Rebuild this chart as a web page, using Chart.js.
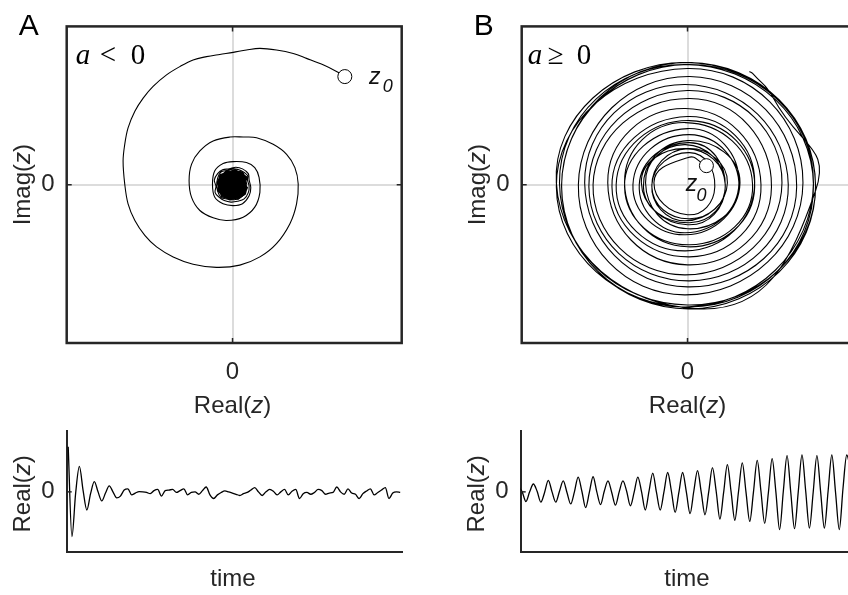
<!DOCTYPE html>
<html>
<head>
<meta charset="utf-8">
<title>Phase portraits</title>
<script src="https://cdn.jsdelivr.net/npm/chart.js@4.4.1/dist/chart.umd.min.js"></script>
<style>
  html, body { margin: 0; padding: 0; width: 848px; height: 595px; overflow: hidden; background: #fff; }
  canvas { position: absolute; }
</style>
</head>
<body>
<canvas id="phaseA" width="424" height="420" style="left:0;top:0"></canvas>
<canvas id="phaseB" width="424" height="420" style="left:455px;top:0"></canvas>
<canvas id="traceA" width="424" height="190" style="left:0;top:405px"></canvas>
<canvas id="traceB" width="424" height="190" style="left:454px;top:405px"></canvas>
<script>
// Panel A, phase plane: trajectory from z0 spiralling into the origin
const spiralARe = [
  0.677, 0.627, 0.546, 0.446, 0.366, 0.265, 0.165, 0.084, 0.004, -0.077,
  -0.157, -0.238, -0.318, -0.398, -0.479, -0.539, -0.589, -0.630, -0.650, -0.660,
  -0.650, -0.630, -0.589, -0.529, -0.458, -0.358, -0.238, -0.097, 0.044, 0.165,
  0.265, 0.346, 0.386, 0.396, 0.376, 0.326, 0.245, 0.145, 0.064, -0.016,
  -0.117, -0.197, -0.247, -0.262, -0.247, -0.197, -0.117, -0.036, 0.064, 0.134,
  0.165, 0.160, 0.134, 0.084, 0.004, -0.057, -0.107, -0.121, -0.107, -0.057,
  0.004, 0.060, 0.100, 0.110, 0.100, 0.095, 0.060, 0.020, -0.020, -0.060,
  -0.090, -0.110, -0.100, -0.105, -0.080, -0.050, -0.010, 0.030, 0.070, 0.095,
  0.100, 0.090, 0.090, 0.050, 0.010, -0.030, -0.070, -0.090, -0.095, -0.090,
  -0.070, -0.030, 0.010, 0.050, 0.080
];
const spiralAIm = [
  0.683, 0.715, 0.757, 0.798, 0.829, 0.851, 0.861, 0.851, 0.836, 0.823,
  0.809, 0.788, 0.746, 0.694, 0.621, 0.547, 0.464, 0.359, 0.255, 0.150,
  0.004, -0.121, -0.226, -0.320, -0.393, -0.456, -0.502, -0.522, -0.508, -0.456,
  -0.372, -0.246, -0.121, 0.004, 0.108, 0.192, 0.255, 0.297, 0.301, 0.301,
  0.276, 0.213, 0.130, 0.025, -0.080, -0.163, -0.209, -0.226, -0.205, -0.142,
  -0.048, 0.046, 0.108, 0.140, 0.146, 0.134, 0.088, 0.004, -0.080, -0.121,
  -0.132, -0.120, -0.070, -0.020, 0.030, 0.070, 0.100, 0.110, 0.100, 0.095,
  0.070, 0.030, -0.010, -0.050, -0.080, -0.100, -0.110, -0.105, -0.090, -0.050,
  -0.010, 0.030, 0.060, 0.090, 0.100, 0.090, 0.080, 0.040, 0.000, -0.040,
  -0.080, -0.090, -0.095, -0.080, -0.050
];
// Dense core where the trajectory keeps circling the origin
const coreARe = [
  0.085, 0.080, 0.088, 0.070, 0.060, 0.035, 0.015, -0.010, -0.035, -0.055,
  -0.075, -0.080, -0.092, -0.085, -0.090, -0.072, -0.065, -0.040, -0.015, 0.010,
  0.035, 0.055, 0.075, 0.082, 0.090
];
const coreAIm = [
  0.000, 0.025, 0.045, 0.060, 0.080, 0.082, 0.095, 0.085, 0.088, 0.070,
  0.062, 0.040, 0.015, -0.010, -0.035, -0.055, -0.075, -0.082, -0.095, -0.088,
  -0.090, -0.072, -0.060, -0.035, -0.015
];

// Panel A, Real(z) over time (quarter-period samples)
const realA = [
  0.745, -0.74, -0.02, 0.42, 0.02, -0.30, -0.03, 0.17, 0.00, -0.15,
  -0.02, 0.10, 0.00, -0.10, -0.07, 0.03, 0.05, -0.05, -0.02, 0.005,
  0.00, -0.01, -0.03, 0.02, 0.04, -0.07, 0.02, 0.03, 0.04, -0.01,
  0.02, 0.05, -0.05, -0.01, 0.00, -0.04, 0.02, 0.08, -0.05, -0.11,
  -0.05, -0.01, 0.015, 0.00, -0.02, -0.04, -0.06, -0.03, -0.01, 0.03,
  0.07, 0.00, -0.06, 0.00, 0.04, 0.01, -0.05, 0.00, 0.04, -0.05,
  0.01, 0.04, -0.11, -0.03, -0.01, -0.04, -0.01, 0.04, 0.02, -0.04,
  -0.02, -0.01, 0.08, 0.00, -0.04, 0.05, -0.02, -0.04, -0.11, -0.03,
  0.015, 0.05, -0.05, -0.01, 0.03, 0.07, -0.11, -0.02, 0.00, -0.01
];

// Panel B, growing oscillation: z0, then Real and Imag at quarter-period samples
const realB = [
  0.09, 0.00,
  -0.16, 0.00, 0.13, 0.01,    -0.17, -0.01, 0.19, 0.00,   -0.17, 0.01, 0.18, -0.01,
  -0.20, 0.00, 0.245, 0.01,   -0.26, -0.01, 0.25, 0.00,   -0.21, 0.01, 0.18, -0.01,
  -0.22, 0.00, 0.18, 0.01,    -0.23, -0.01, 0.245, 0.00,  -0.30, 0.01, 0.31, -0.01,
  -0.30, 0.00, 0.32, 0.01,    -0.34, -0.01, 0.32, 0.00,   -0.36, 0.01, 0.35, -0.01,
  -0.38, 0.00, 0.40, 0.01,    -0.45, -0.01, 0.45, 0.00,   -0.47, 0.01, 0.48, -0.01,
  -0.49, 0.00, 0.52, 0.01,    -0.52, -0.01, 0.55, 0.00,   -0.625, 0.01, 0.60, -0.01,
  -0.61, 0.00, 0.61, 0.01,    -0.60, -0.01, 0.60, 0.00,   -0.60, 0.01, 0.61, -0.01,
  -0.625, 0.06, 0.61, 0.41, 0.31, 0.295
];
const imagB = [
  0.095, 0.135,
  0.01, -0.15, -0.01, 0.16,   0.00, -0.18, 0.01, 0.18,    -0.01, -0.17, 0.00, 0.20,
  0.01, -0.22, -0.01, 0.25,   0.00, -0.25, 0.01, 0.22,    -0.01, -0.19, 0.00, 0.18,
  0.01, -0.20, -0.01, 0.21,   0.00, -0.24, 0.01, 0.28,    -0.01, -0.30, 0.00, 0.31,
  0.01, -0.31, -0.01, 0.32,   0.00, -0.33, 0.01, 0.34,    -0.01, -0.36, 0.00, 0.38,
  0.01, -0.40, -0.01, 0.43,   0.00, -0.45, 0.01, 0.47,    -0.01, -0.48, 0.00, 0.50,
  0.01, -0.51, -0.01, 0.54,   0.00, -0.55, 0.01, 0.58,    -0.01, -0.61, 0.00, 0.60,
  0.01, -0.60, -0.01, 0.61,   0.00, -0.61, 0.01, 0.60,    -0.01, -0.62, 0.00, 0.61,
  0.01, -0.62, -0.03, 0.43, 0.555, 0.565
];

const tickValues = [0];

const ink = '#262626';
const sansFamily = '"Liberation Sans", Arial, Helvetica, sans-serif';
const serifFamily = '"Liberation Serif", "Times New Roman", serif';
const sans = (size, style) => (style ? style + ' ' : '') + size + 'px ' + sansFamily;
const serif = (size, style) => (style ? style + ' ' : '') + size + 'px ' + serifFamily;

const pairs = (xs, ys) => xs.map((x, i) => ({ x: x, y: ys[i] }));
const series = vals => vals.map((y, i) => ({ x: i, y: y }));

// draws a row of differently styled text runs (for the italic z)
function drawRuns(ctx, runs, x, y, o) {
  o = o || {};
  ctx.save();
  ctx.translate(x, y);
  if (o.rotate) ctx.rotate(o.rotate);
  ctx.textBaseline = o.baseline || 'middle';
  ctx.textAlign = 'left';
  let w = 0;
  runs.forEach(r => { ctx.font = r.font; w += ctx.measureText(r.text).width; });
  let cx = o.align === 'left' ? 0 : -w / 2;
  runs.forEach(r => {
    ctx.font = r.font;
    ctx.fillStyle = r.color || ink;
    ctx.fillText(r.text, cx, 0);
    cx += ctx.measureText(r.text).width;
  });
  ctx.restore();
}

const label = name => [
  { text: name + '(', font: sans(24) },
  { text: 'z', font: sans(24, 'italic') },
  { text: ')', font: sans(24) }
];

function framePlugin(cfg) {
  return {
    id: 'frame',
    afterDatasetsDraw(chart) {
      const { ctx, chartArea: a, scales: { x, y } } = chart;
      const x0 = x.getPixelForValue(0), y0 = y.getPixelForValue(0);
      ctx.save();
      ctx.strokeStyle = ink;
      ctx.lineWidth = 1.5;
      ctx.beginPath();
      if (cfg.box) {
        ctx.moveTo(x0, a.top); ctx.lineTo(x0, a.top + 5);
        ctx.moveTo(x0, a.bottom); ctx.lineTo(x0, a.bottom - 5);
        ctx.moveTo(a.right, y0); ctx.lineTo(a.right - 5, y0);
      }
      ctx.moveTo(a.left, y0); ctx.lineTo(a.left + 5, y0);
      ctx.stroke();
      if (cfg.box) {
        ctx.lineWidth = 2.5;
        ctx.strokeRect(a.left, a.top, a.right - a.left, a.bottom - a.top);
      }
      ctx.restore();
    },
    afterDraw(chart) {
      cfg.texts(chart).forEach(t => drawRuns(chart.ctx, t.runs, t.x, t.y, t));
    }
  };
}

function axis(min, max, size, o) {
  return {
    type: 'linear',
    min: min,
    max: max,
    afterBuildTicks: s => { s.ticks = tickValues.map(v => ({ value: v })); },
    afterFit: s => { if (s.isHorizontal()) s.height = size; else s.width = size; },
    ticks: { display: o.ticks, font: { family: sansFamily, size: 24 }, color: ink, padding: o.pad || 0 },
    grid: { display: o.grid, color: '#dcdcdc', lineWidth: 2, drawTicks: false },
    border: { display: o.border, color: ink, width: 2 }
  };
}

function baseOptions(scales, padTop) {
  return {
    responsive: false,
    animation: false,
    devicePixelRatio: 1,
    events: [],
    layout: { padding: { top: padTop, right: 22.3, left: 0, bottom: 0 } },
    plugins: { legend: { display: false }, tooltip: { enabled: false } },
    scales: scales
  };
}

function phaseTexts(letter, relation, z0, rel, zOff) {
  return chart => {
    const a = chart.chartArea;
    const mx = chart.scales.x.getPixelForValue(z0.x);
    const my = chart.scales.y.getPixelForValue(z0.y);
    const mid = (a.top + a.bottom) / 2;
    return [
      { runs: [{ text: letter, font: sans(30), color: '#000' }], x: a.left - 38, y: a.top + 9, baseline: 'alphabetic' },
      { runs: [{ text: 'a', font: serif(29, 'italic'), color: '#000' }], x: a.left + rel[0], y: a.top + 38, align: 'left', baseline: 'alphabetic' },
      { runs: [{ text: relation, font: serif(29), color: '#000' }], x: a.left + rel[1], y: a.top + 38, align: 'left', baseline: 'alphabetic' },
      { runs: [{ text: '0', font: serif(29), color: '#000' }], x: a.left + rel[2], y: a.top + 38, align: 'left', baseline: 'alphabetic' },
      { runs: [{ text: 'z', font: sans(23, 'italic'), color: '#111' }], x: mx + zOff[0], y: my + zOff[1] },
      { runs: [{ text: '0', font: sans(18, 'italic'), color: '#111' }], x: mx + zOff[2], y: my + zOff[3] },
      { runs: label('Imag'), x: a.left - 43.5, y: mid, rotate: -Math.PI / 2 },
      { runs: label('Real'), x: chart.scales.x.getPixelForValue(0), y: a.bottom + 63 }
    ];
  };
}

function traceTexts(chart) {
  const a = chart.chartArea;
  return [
    { runs: label('Real'), x: a.left - 43.5, y: chart.scales.y.getPixelForValue(0) + 2, rotate: -Math.PI / 2 },
    { runs: [{ text: 'time', font: sans(24) }], x: a.left + 166.3, y: a.bottom + 27 }
  ];
}

const marker = p => ({
  data: [p], showLine: false, pointRadius: 7, pointBackgroundColor: '#fff',
  pointBorderColor: '#000', pointBorderWidth: 1
});

// Phase plane A
const zA = { x: spiralARe[0], y: spiralAIm[0] };
new Chart(document.getElementById('phaseA'), {
  type: 'line',
  data: {
    datasets: [
      marker(zA),
      { data: pairs(spiralARe, spiralAIm), borderColor: '#000', borderWidth: 1.1, pointRadius: 0, tension: 0.35 },
      { data: pairs(coreARe, coreAIm), borderColor: '#000', borderWidth: 1.5, backgroundColor: '#000', fill: 'shape', pointRadius: 0, tension: 0.2 }
    ]
  },
  options: baseOptions({
    x: axis(-1, 1.02, 77, { ticks: true, pad: 15, grid: true, border: false }),
    y: axis(-1, 1, 66.7, { ticks: true, pad: 12, grid: true, border: false })
  }, 24),
  plugins: [framePlugin({ box: true, texts: phaseTexts('A', '<', zA, [9, 33, 64], [30, 1, 43, 10]) })]
});

// Phase plane B
const zB = { x: realB[0], y: imagB[0] };
new Chart(document.getElementById('phaseB'), {
  type: 'line',
  data: {
    datasets: [
      marker(zB),
      { data: pairs(realB, imagB), borderColor: '#000', borderWidth: 1.1, pointRadius: 0, tension: 0.55 }
    ]
  },
  options: baseOptions({
    x: axis(-0.79, 0.806, 77, { ticks: true, pad: 15, grid: true, border: false }),
    y: axis(-0.79, 0.79, 66.7, { ticks: true, pad: 12, grid: true, border: false })
  }, 24),
  plugins: [framePlugin({ box: true, texts: phaseTexts('B', '\u2265', zB, [6, 26, 55], [-15, 19, -5, 30]) })]
});

// Real part against time, A and B (B's first sample is z0, just before the shown window)
function traceChart(id, vals, tMin, tMax) {
  new Chart(document.getElementById(id), {
    type: 'line',
    data: {
      datasets: [{ data: series(vals), borderColor: '#000', borderWidth: 1.3, pointRadius: 0, cubicInterpolationMode: 'monotone' }]
    },
    options: baseOptions({
      x: axis(tMin, tMax, 42.7, { ticks: false, grid: false, border: true }),
      y: axis(-1, 1, 66.7, { ticks: true, pad: 12, grid: false, border: true })
    }, 19),
    plugins: [framePlugin({ box: false, texts: traceTexts })]
  });
}
traceChart('traceA', realA, -0.4, 89.4);
traceChart('traceB', realB, 0.6, 90.4);
</script>
</body>
</html>
